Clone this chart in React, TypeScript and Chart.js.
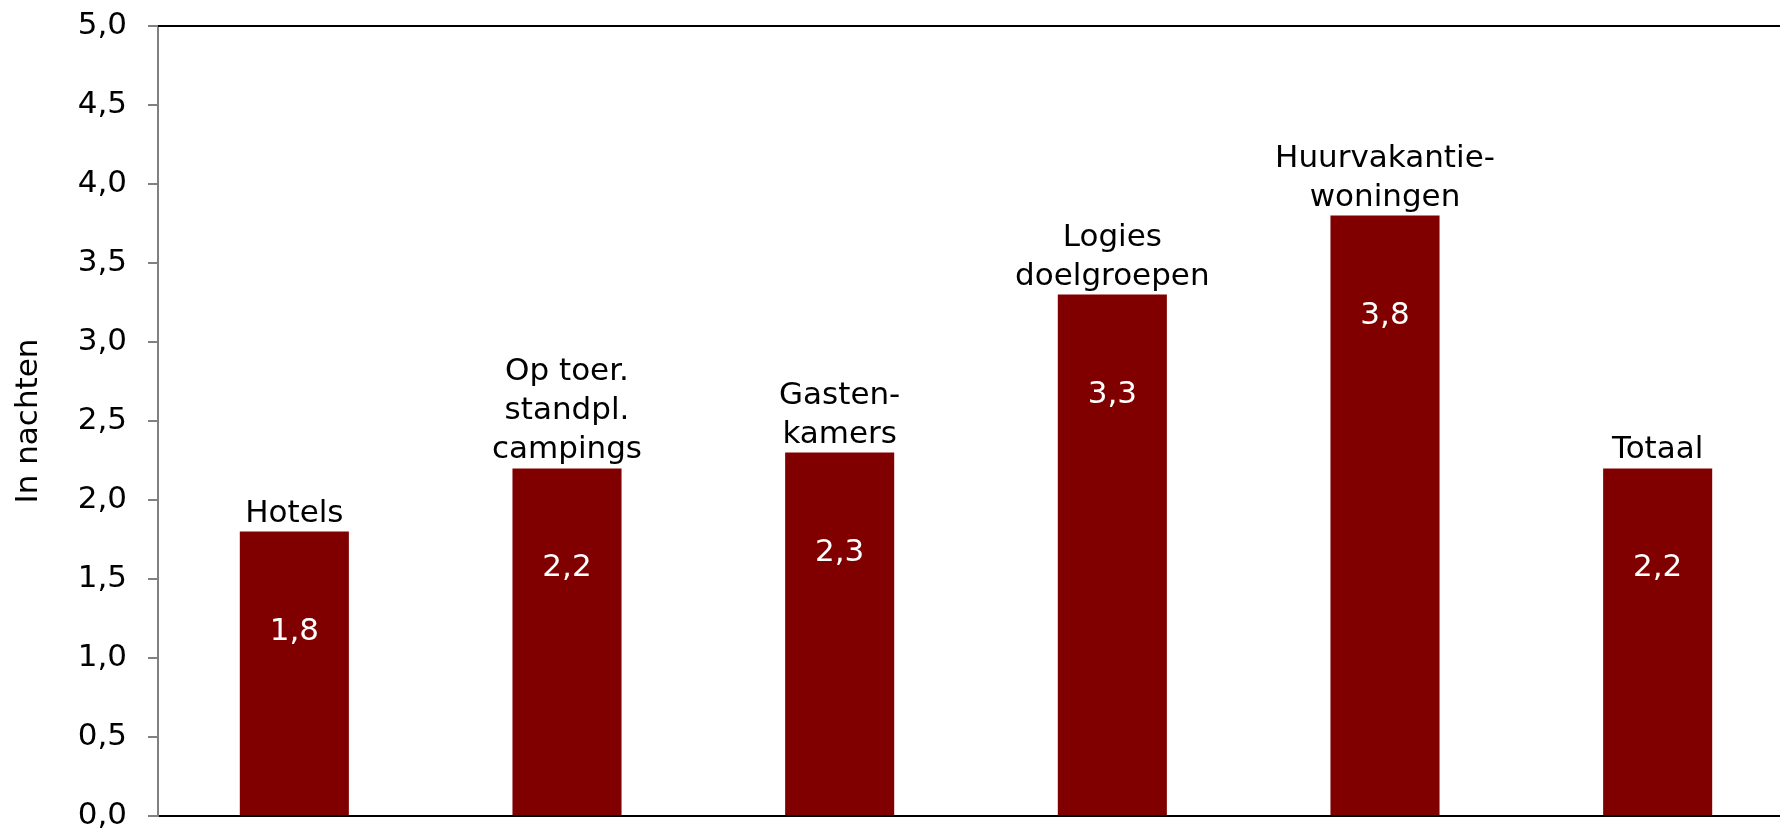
import React, { useEffect, useRef } from "react";
import { Chart, registerables } from "chart.js";

Chart.register(...registerables);

// ---- Data ----
const categoryLines: string[][] = [
  ["Hotels"],
  ["Op toer.", "standpl.", "campings"],
  ["Gasten-", "kamers"],
  ["Logies", "doelgroepen"],
  ["Huurvakantie-", "woningen"],
  ["Totaal"],
];
const categories: string[] = categoryLines.map((l) => l.join(" "));
const values: number[] = [1.8, 2.2, 2.3, 3.3, 3.8, 2.2];
const yMin = 0;
const yMax = 5;
const yStep = 0.5;
const yTitle = "In nachten";

const FONT_FAMILY = '"DejaVu Sans", Verdana, sans-serif';
const FONT_SIZE = 31;
const BAR_COLOR = "#800000";

const fmt = (v: number) => v.toFixed(1).replace(".", ",");

const barLabelPlugin = {
  id: "barLabels",
  afterDatasetsDraw(chart: any) {
    const ctx = chart.ctx;
    const meta = chart.getDatasetMeta(0);
    ctx.save();
    ctx.font = `${FONT_SIZE}px ${FONT_FAMILY}`;
    ctx.textAlign = "center";
    meta.data.forEach((bar: any, i: number) => {
      const { x, y } = bar.getProps(["x", "y"], true);
      ctx.fillStyle = "#ffffff";
      ctx.textBaseline = "middle";
      ctx.fillText(fmt(values[i]), x, y + 100);
      ctx.fillStyle = "#000000";
      ctx.textBaseline = "alphabetic";
      const lines = categoryLines[i];
      lines.forEach((line, j) => {
        ctx.fillText(line, x, y - 10 - (lines.length - 1 - j) * 39);
      });
    });
    const { left, right, top } = chart.chartArea;
    ctx.strokeStyle = "#000000";
    ctx.lineWidth = 2;
    ctx.beginPath();
    ctx.moveTo(left, top);
    ctx.lineTo(right, top);
    ctx.stroke();
    ctx.restore();
  },
};

export default function App() {
  const canvasRef = useRef<HTMLCanvasElement | null>(null);

  useEffect(() => {
    if (!canvasRef.current) return;
    const chart = new Chart(canvasRef.current, {
      type: "bar",
      data: {
        labels: categories,
        datasets: [
          {
            data: values,
            backgroundColor: BAR_COLOR,
            borderWidth: 0,
            barPercentage: 0.4,
            categoryPercentage: 1,
          },
        ],
      },
      options: {
        responsive: false,
        animation: false,
        devicePixelRatio: 1,
        layout: { padding: { top: 26, bottom: 15, left: 0, right: 0 } },
        plugins: {
          legend: { display: false },
          tooltip: { enabled: false },
          title: { display: false },
        },
        scales: {
          x: {
            grid: { display: false },
            ticks: { display: false },
            border: { display: true, color: "#000000", width: 2 },
            afterFit: (scale: any) => {
              scale.height = 0;
              scale.paddingLeft = 0;
              scale.paddingRight = 0;
            },
          },
          y: {
            min: yMin,
            max: yMax,
            afterFit: (scale: any) => {
              scale.width = 158;
              scale.paddingTop = 0;
              scale.paddingBottom = 0;
            },
            ticks: {
              stepSize: yStep,
              padding: 21,
              color: "#000000",
              font: { family: FONT_FAMILY, size: FONT_SIZE },
              callback: (v: any) => fmt(Number(v)),
            },
            grid: {
              display: true,
              drawOnChartArea: false,
              drawTicks: true,
              tickLength: 10,
              color: "#808080",
              lineWidth: 2,
            },
            border: { display: true, color: "#808080", width: 2 },
            title: {
              display: true,
              text: yTitle,
              color: "#000000",
              font: { family: FONT_FAMILY, size: FONT_SIZE },
              padding: { top: 10, bottom: 0 },
            },
          },
        },
      },
      plugins: [barLabelPlugin],
    });
    return () => chart.destroy();
  }, []);

  return (
    <div
      style={{
        position: "fixed",
        left: 0,
        top: 0,
        width: "1780px",
        height: "831px",
        overflow: "hidden",
        background: "#ffffff",
      }}
    >
      <canvas
        ref={canvasRef}
        width={1794}
        height={831}
        style={{ display: "block", width: "1794px", height: "831px" }}
      />
    </div>
  );
}
